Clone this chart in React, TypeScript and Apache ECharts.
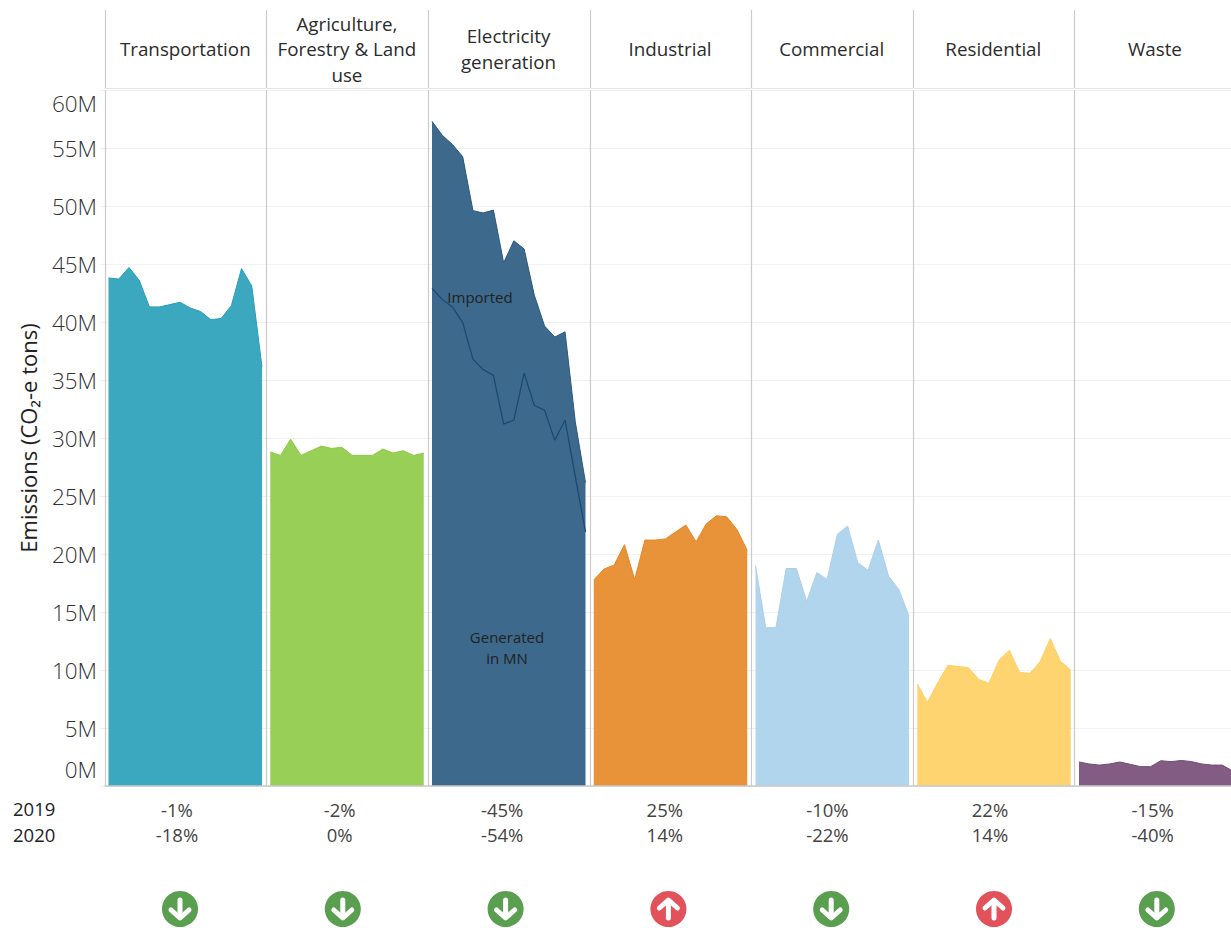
import React, { useEffect, useRef } from "react";
import * as echarts from "echarts";

const sectors = ["Transportation", "Agriculture,\nForestry & Land\nuse", "Electricity\ngeneration", "Industrial", "Commercial", "Residential", "Waste"];
const years = ["2005","2006","2007","2008","2009","2010","2011","2012","2013","2014","2015","2016","2017","2018","2019","2020"];
const transportation = [43.8,43.7,44.7,43.6,41.3,41.3,41.5,41.7,41.2,40.9,40.2,40.3,41.4,44.6,43.1,36.1];
const agriculture = [28.8,28.5,29.9,28.5,28.9,29.3,29.1,29.2,28.5,28.5,28.5,29.05,28.7,28.9,28.5,28.7];
const electricity = [57.3,56.1,55.3,54.25,49.6,49.4,49.65,45.1,47.0,46.3,42.3,39.65,38.7,39.15,31.4,26.15];
const generatedInMN = [42.9,41.95,41.3,39.95,36.8,35.9,35.4,31.2,31.55,35.6,32.8,32.4,29.8,31.55,26.7,21.9];
const industrial = [17.76,18.7,19.05,20.8,17.8,21.2,21.2,21.3,21.9,22.5,21.05,22.6,23.3,23.2,22.1,20.3];
const commercial = [19.0,13.65,13.65,18.75,18.75,15.9,18.4,17.8,21.7,22.4,19.25,18.6,21.2,18.1,16.95,14.65];
const residential = [8.8,7.2,8.9,10.4,10.3,10.2,9.2,8.85,10.85,11.7,9.8,9.7,10.7,12.7,10.75,10.0];
const waste = [2.07,1.9,1.8,1.9,2.07,1.87,1.67,1.67,2.18,2.1,2.2,2.1,1.9,1.8,1.8,1.3];
const sectorValues = [transportation, agriculture, electricity, industrial, commercial, residential, waste];
const sectorColors = ["#269eb8", "#8cca45", "#27597f", "#e68723", "#a9d0eb", "#fecf61", "#744a74"];
const change2019 = ["-1%", "-2%", "-45%", "25%", "-10%", "22%", "-15%"];
const change2020 = ["-18%", "0%", "-54%", "14%", "-22%", "14%", "-40%"];
const trendUp = [false, false, false, true, false, true, false];

const FONT = "Open Sans";
const PANEL = 161.6;
const AREA_STEP = 161.75;
const PLOT_LEFT = 105;
const PLOT_TOP = 90;
const PLOT_BOTTOM = 786;

export default function App() {
  const ref = useRef<HTMLDivElement>(null);
  useEffect(() => {
    if (!ref.current) return;
    const chart = echarts.init(ref.current, undefined, { renderer: "svg" });
    const plotH = PLOT_BOTTOM - PLOT_TOP;
    const grids: any[] = [
      { left: PLOT_LEFT, top: PLOT_TOP, width: PANEL * 7, height: plotH, outerBoundsMode: "none" },
      { left: PLOT_LEFT, top: 10, width: PANEL * 7, height: 78.5, outerBoundsMode: "none" },
    ];
    const xAxes: any[] = [
      {
        type: "value", gridIndex: 0, min: 0, max: 7, interval: 1, z: 5,
        axisLabel: { show: false },
        axisTick: { show: false },
        axisLine: { show: true, lineStyle: { color: "#c8c8c8", width: 1.5 } },
        splitLine: { show: true, lineStyle: { color: "#cbcbcb", width: 1.2 } },
      },
      {
        type: "value", gridIndex: 1, min: 0, max: 7, interval: 1, position: "bottom",
        axisLabel: { show: false },
        axisTick: { show: false },
        axisLine: { show: true, lineStyle: { color: "#e6e6e6", width: 1 } },
        splitLine: { show: true, lineStyle: { color: "#cbcbcb", width: 1.2 } },
      },
    ];
    const yAxes: any[] = [
      {
        type: "value", gridIndex: 0, min: 0, max: 60, interval: 5,
        name: "Emissions (CO₂-e tons)", nameLocation: "middle", nameGap: 66, nameRotate: 90,
        nameTextStyle: { fontFamily: FONT, fontSize: 22, color: "#222222" },
        axisLine: { show: false },
        axisTick: { show: true, length: 5, lineStyle: { color: "#eeeeee" } },
        axisLabel: {
          margin: 8, fontFamily: FONT, fontSize: 22.5, fontWeight: 300, color: "#333333",
          formatter: (v: number) => (v === 60 ? `{hi|${v}M}` : v === 0 ? `{lo|${v}M}` : `${v}M`),
          rich: {
            hi: { fontFamily: FONT, fontSize: 22.5, fontWeight: 300, color: "#333333", padding: [2, 0, 0, 0] },
            lo: { fontFamily: FONT, fontSize: 22.5, fontWeight: 300, color: "#333333", padding: [0, 0, 5, 0] },
          },
          verticalAlignMinLabel: "bottom", verticalAlignMaxLabel: "top",
        },
        splitLine: { show: true, lineStyle: { color: "#f1f1f1", width: 1 } },
      },
      { type: "value", gridIndex: 1, min: 0, max: 1, show: false },
    ];
    const series: any[] = [];
    sectorValues.forEach((values, i) => {
      const g = grids.length;
      grids.push({ left: 108.5 + AREA_STEP * i, top: PLOT_TOP, width: 153.5, height: plotH, outerBoundsMode: "none" });
      xAxes.push({ type: "category", gridIndex: g, data: years, boundaryGap: false, show: false });
      yAxes.push({ type: "value", gridIndex: g, min: 0, max: 60, show: false });
      series.push({
        type: "line", name: sectors[i].replace(/\n/g, " "), xAxisIndex: g, yAxisIndex: g, data: values,
        symbol: "none", clip: false, z: 2,
        lineStyle: { color: sectorColors[i], width: 1 },
        areaStyle: { color: sectorColors[i], opacity: 0.9 },
      });
      if (values === electricity) {
        series.push({
          type: "line", name: "Generated in MN", xAxisIndex: g, yAxisIndex: g, data: generatedInMN,
          symbol: "none", z: 3, lineStyle: { color: "#164a73", width: 1.2 },
        });
      }
    });
    const graphic: any[] = [];
    sectors.forEach((s, i) => {
      graphic.push({
        type: "text", x: PLOT_LEFT + PANEL * (i + 0.5) - 0.5, y: 49,
        style: { text: s, fontFamily: FONT, fontSize: 18.8, fontWeight: 500, lineHeight: 25.5, fill: "#2b2b2b", align: "center", verticalAlign: "middle" },
      });
    });
    graphic.push({ type: "text", z: 20, x: 480, y: 297, style: { text: "Imported", fontFamily: FONT, fontSize: 15, fill: "#222222", align: "center", verticalAlign: "middle" } });
    graphic.push({ type: "text", z: 20, x: 507, y: 647.5, style: { text: "Generated\nin MN", fontFamily: FONT, fontSize: 15, lineHeight: 21, fill: "#222222", align: "center", verticalAlign: "middle" } });
    graphic.push({ type: "text", x: 13, y: 808.5, style: { text: "2019", fontFamily: FONT, fontSize: 18.5, fontWeight: 500, fill: "#222222", verticalAlign: "middle" } });
    graphic.push({ type: "text", x: 13, y: 834, style: { text: "2020", fontFamily: FONT, fontSize: 18.5, fontWeight: 500, fill: "#222222", verticalAlign: "middle" } });
    change2019.forEach((t, i) => {
      const x = 177 + 162.6 * i;
      graphic.push({ type: "text", x, y: 809, style: { text: t, fontFamily: FONT, fontSize: 18.5, fill: "#444444", align: "center", verticalAlign: "middle" } });
      graphic.push({ type: "text", x, y: 834, style: { text: change2020[i], fontFamily: FONT, fontSize: 18.5, fill: "#444444", align: "center", verticalAlign: "middle" } });
      const up = trendUp[i];
      const d = up ? -1 : 1;
      const white = { stroke: "#ffffff", lineWidth: 5, fill: "none", lineCap: "round", lineJoin: "round" };
      graphic.push({
        type: "group", x: 180 + 162.8 * i, y: 909,
        children: [
          { type: "circle", shape: { cx: 0, cy: 0, r: 18 }, style: { fill: up ? "#e1525b" : "#5a9e50" } },
          { type: "line", shape: { x1: 0, y1: -9 * d, x2: 0, y2: 8 * d }, style: white },
          { type: "polyline", shape: { points: [[-9, 1 * d], [0, 9 * d], [9, 1 * d]] }, style: white },
        ],
      });
    });
    chart.setOption({
      animation: false,
      backgroundColor: "#ffffff",
      grid: grids, xAxis: xAxes, yAxis: yAxes, series, graphic,
    });
    return () => chart.dispose();
  }, []);
  return <div ref={ref} style={{ position: "fixed", left: 0, top: 0, width: 1231, height: 928 }} />;
}
